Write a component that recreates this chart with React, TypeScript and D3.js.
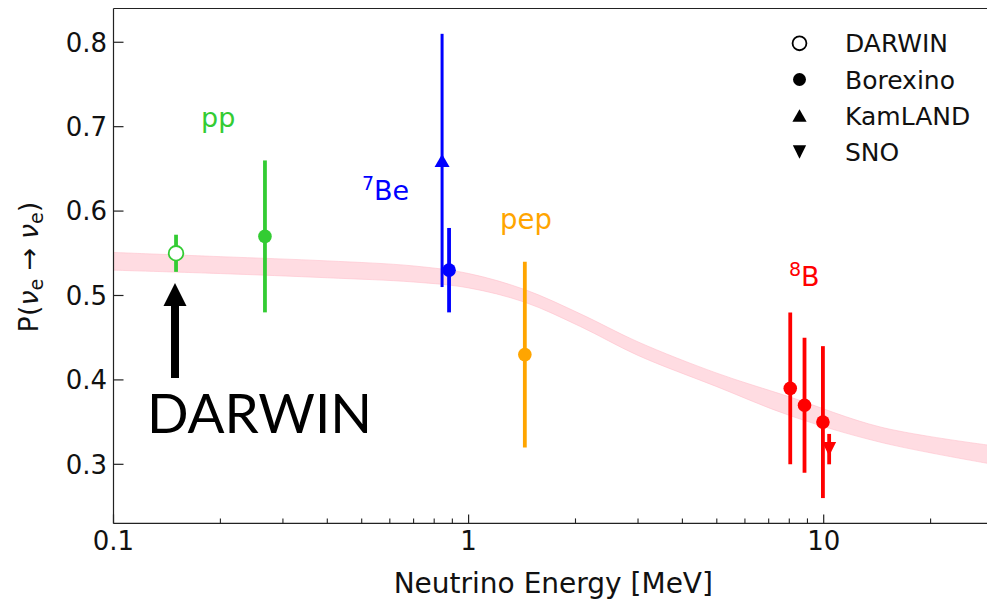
import React from 'react';
import * as d3 from 'd3';

// Survival-probability band (MSW-LMA prediction)
const bandEnergy = [0.1, 0.2, 0.4, 0.7, 1.0, 1.44, 2.07, 3.0, 5.0, 8.0, 14.5, 30];
const bandUpper = [0.551, 0.546, 0.541, 0.535, 0.526, 0.507, 0.478, 0.445, 0.408, 0.380, 0.344, 0.322];
const bandLower = [0.530, 0.526, 0.521, 0.516, 0.509, 0.492, 0.463, 0.429, 0.392, 0.358, 0.326, 0.300];

// Measurements
const pointEnergy = [0.15, 0.267, 0.842, 0.881, 1.44, 8.05, 8.83, 9.95, 10.36];
const pointProb = [0.55, 0.57, 0.66, 0.53, 0.43, 0.39, 0.37, 0.35, 0.318];
const pointErr = [0.022, 0.09, 0.15, 0.05, 0.11, 0.09, 0.08, 0.09, 0.018];
const pointSource = ['pp', 'pp', '7Be', '7Be', 'pep', '8B', '8B', '8B', '8B'];
const pointExperiment = ['DARWIN', 'Borexino', 'KamLAND', 'Borexino', 'Borexino', 'Borexino', 'Borexino', 'Borexino', 'SNO'];

const sourceColor: Record<string, string> = {
  pp: '#33cc33',
  '7Be': '#0000ff',
  pep: '#ffa500',
  '8B': '#ff0000',
};

const legendItems = ['DARWIN', 'Borexino', 'KamLAND', 'SNO'];
const yTicks = [0.3, 0.4, 0.5, 0.6, 0.7, 0.8];
const xMajorTicks = [0.1, 1, 10];
const xMinorTicks = [0.2, 0.3, 0.4, 0.5, 0.6, 0.7, 0.8, 0.9, 2, 3, 4, 5, 6, 7, 8, 9, 20, 30];

const W = 987;
const H = 603;
const left = 113.5;
const top = 8.5;
const bottom = 523.4;

const x = d3.scaleLog().domain([0.1, 30]).range([left, left + Math.log10(300) * 355.1]);
const y = d3.scaleLinear().domain([0.23, 0.84]).range([bottom, top]);

function tri(cx: number, cy: number, hw: number, hh: number, up: boolean) {
  return up
    ? `M${cx},${cy - hh}L${cx + hw},${cy + hh}L${cx - hw},${cy + hh}Z`
    : `M${cx},${cy + hh}L${cx + hw},${cy - hh}L${cx - hw},${cy - hh}Z`;
}

function Marker({ kind, cx, cy, color, scale = 1 }: { kind: string; cx: number; cy: number; color: string; scale?: number }) {
  if (kind === 'DARWIN') return <circle cx={cx} cy={cy} r={7.3 * scale} fill="#fff" stroke={color} strokeWidth={1.8} />;
  if (kind === 'Borexino') return <circle cx={cx} cy={cy} r={6.8 * scale} fill={color} />;
  if (kind === 'KamLAND') return <path d={tri(cx, cy, 7.5 * scale, 6.5 * scale, true)} fill={color} />;
  return <path d={tri(cx, cy, 7 * scale, 7 * scale, false)} fill={color} />;
}

export default function App() {
  const area = d3
    .area<number>()
    .x((_, i) => x(bandEnergy[i]))
    .y0((_, i) => y(bandLower[i]))
    .y1((_, i) => y(bandUpper[i]))
    .curve(d3.curveCatmullRom.alpha(0.5));
  const bandPath = area(bandEnergy) || '';
  const font = 'DejaVu Sans';
  const right = x(30);

  return (
    <svg width={W} height={H} style={{ position: 'absolute', left: 0, top: 0, background: '#fff' }} fontFamily={font}>
      <defs>
        <clipPath id="plotclip">
          <rect x={left} y={top} width={right - left} height={bottom - top} />
        </clipPath>
      </defs>
      <rect x={0} y={0} width={W} height={H} fill="#fff" />
      <g clipPath="url(#plotclip)">
        <path d={bandPath} fill="#ffc0cb" fillOpacity={0.55} stroke="#ffc0cb" strokeOpacity={0.6} strokeWidth={1} />
      </g>

      {/* error bars and markers */}
      {pointEnergy.map((e, i) => {
        const c = sourceColor[pointSource[i]];
        const cx = x(e);
        return (
          <g key={i}>
            <line x1={cx} x2={cx} y1={y(pointProb[i] - pointErr[i])} y2={y(pointProb[i] + pointErr[i])} stroke={c} strokeWidth={pointExperiment[i] === 'KamLAND' ? 3 : 3.8} />
            <Marker kind={pointExperiment[i]} cx={cx} cy={y(pointProb[i])} color={c} />
          </g>
        );
      })}

      {/* spines */}
      <line x1={left} x2={left} y1={top} y2={bottom} stroke="#222" strokeWidth={1.2} />
      <line x1={left} x2={W} y1={bottom} y2={bottom} stroke="#222" strokeWidth={1.2} />
      <line x1={left} x2={W} y1={top} y2={top} stroke="#222" strokeWidth={1.2} />

      {/* y ticks */}
      {yTicks.map((t) => (
        <g key={t}>
          <line x1={left} x2={left + 10} y1={y(t)} y2={y(t)} stroke="#222" strokeWidth={1.2} />
          <text x={107} y={y(t)} dy="0.36em" textAnchor="end" fontSize={26} fill="#111">
            {t.toFixed(1)}
          </text>
        </g>
      ))}

      {/* x ticks */}
      {xMajorTicks.map((t) => (
        <g key={t}>
          <line x1={x(t)} x2={x(t)} y1={bottom} y2={bottom - 9} stroke="#222" strokeWidth={1.2} />
          <text x={x(t)} y={550} textAnchor="middle" fontSize={26} fill="#111">
            {String(t)}
          </text>
        </g>
      ))}
      {xMinorTicks.map((t) => (
        <line key={t} x1={x(t)} x2={x(t)} y1={bottom} y2={bottom - 5} stroke="#222" strokeWidth={1.1} />
      ))}

      {/* axis labels */}
      <text x={(left + right) / 2} y={593} textAnchor="middle" fontSize={28} fill="#111">
        Neutrino Energy [MeV]
      </text>
      <text transform="translate(38,267) rotate(-90)" textAnchor="middle" fontSize={27} fill="#111">
        P(<tspan fontStyle="italic">ν</tspan>
        <tspan fontSize={19} dy={5}>e</tspan>
        <tspan dy={-5}> → </tspan>
        <tspan fontStyle="italic">ν</tspan>
        <tspan fontSize={19} dy={5}>e</tspan>
        <tspan dy={-5}>)</tspan>
      </text>

      {/* source labels */}
      <text x={201} y={127} fontSize={27} fill={sourceColor.pp}>pp</text>
      <text x={362} y={200} fontSize={27} fill={sourceColor['7Be']}>
        <tspan fontSize={19} dy={-10}>7</tspan>
        <tspan dy={10}>Be</tspan>
      </text>
      <text x={500} y={229} fontSize={27.5} fill={sourceColor.pep}>pep</text>
      <text x={789} y={286} fontSize={27} fill={sourceColor['8B']}>
        <tspan fontSize={19} dy={-10}>8</tspan>
        <tspan dy={10}>B</tspan>
      </text>

      {/* DARWIN annotation */}
      <path d={`M171,378 L171,306 L163.5,306 L175,283 L186.5,306 L179,306 L179,378 Z`} fill="#000" />
      <text x={147} y={433} fontSize={55} fontFamily="Lato" textLength={225} lengthAdjust="spacingAndGlyphs" fill="#000">
        DARWIN
      </text>

      {/* legend */}
      {legendItems.map((name, i) => {
        const cy = [43.3, 79.5, 115.5, 152][i];
        return (
          <g key={name}>
            <Marker kind={name} cx={799.5} cy={cy} color="#000" scale={0.95} />
            <text x={845} y={cy} dy="0.36em" fontSize={25} fill="#111">
              {name}
            </text>
          </g>
        );
      })}
    </svg>
  );
}
